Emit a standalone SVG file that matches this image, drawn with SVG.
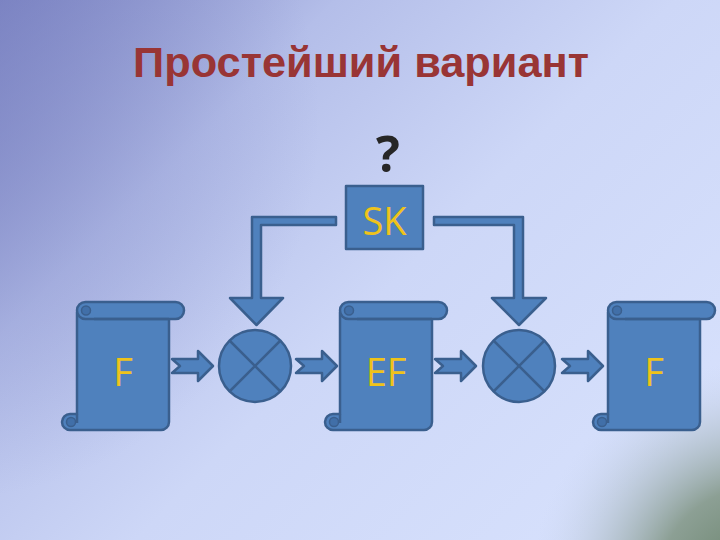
<svg xmlns="http://www.w3.org/2000/svg" xmlns:xlink="http://www.w3.org/1999/xlink" width="720" height="540" viewBox="0 0 720 540">
<defs>
  <linearGradient id="bg" x1="0" y1="0" x2="1" y2="0.75">
    <stop offset="0" stop-color="#7c84c3"/>
    <stop offset="0.3" stop-color="#b4bee9"/>
    <stop offset="0.6" stop-color="#cdd7f7"/>
    <stop offset="1" stop-color="#d6e0fc"/>
  </linearGradient>
  <radialGradient id="corner" cx="760" cy="590" r="230" gradientUnits="userSpaceOnUse">
    <stop offset="0" stop-color="#5f7a5f" stop-opacity="1"/>
    <stop offset="0.45" stop-color="#7f9482" stop-opacity="0.85"/>
    <stop offset="1" stop-color="#c8d3ee" stop-opacity="0"/>
  </radialGradient>
  <radialGradient id="leftshade" cx="-60" cy="120" r="380" gradientUnits="userSpaceOnUse">
    <stop offset="0" stop-color="#7b83c2" stop-opacity="0.6"/>
    <stop offset="1" stop-color="#7b83c2" stop-opacity="0"/>
  </radialGradient>
  <style>
    .shape { fill: #4f81bd; stroke: #3a5f8e; stroke-width: 2.5; stroke-linejoin: round; }
    .curl { fill: #416fa8; stroke: #3a5f8e; stroke-width: 1.5; }
    .line { stroke: #3a5f8e; stroke-width: 2.5; fill: none; }
    .lbl { font-family: "Open Sans", "DejaVu Sans", sans-serif; font-size: 38px; fill: #efc31a; text-anchor: middle; }
  </style>
  <g id="scroll">
    <path class="shape" d="M77,312 L77,414 L70,414 A8,8 0 0 0 70,430 L161,430 A8,8 0 0 0 169,422 L169,312 Z"/>
    <circle class="curl" cx="71" cy="422" r="4.5"/>
    <path class="line" d="M77,414 L77,423"/>
    <rect class="shape" x="77" y="302" width="107" height="17" rx="8.5"/>
    <circle class="curl" cx="86" cy="310.5" r="4.5"/>
    <path class="line" d="M94,319 L169,319"/>
  </g>
  <polygon id="notched" class="shape" points="0,-7 26,-7 26,-15 41,0 26,15 26,7 0,7 8,0"/>
  <g id="mult">
    <circle class="shape" cx="0" cy="0" r="36"/>
    <path class="line" d="M-25.5,-25.5 L25.5,25.5 M25.5,-25.5 L-25.5,25.5"/>
  </g>
</defs>

<rect width="720" height="540" fill="url(#bg)"/>
<rect width="720" height="540" fill="url(#leftshade)"/>
<rect width="720" height="540" fill="url(#corner)"/>

<text x="361" y="77" font-family="'Liberation Sans', Arial, sans-serif" font-weight="bold" font-size="42" fill="#993535" text-anchor="middle" textLength="456" lengthAdjust="spacingAndGlyphs">Простейший вариант</text>

<g id="connectors">
  <path class="shape" d="M336,217 L252,217 L252,298 L230,298 L256.5,325 L283,298 L261,298 L261,225 L336,225 Z"/>
  <path class="shape" d="M434,217 L523,217 L523,298 L546,298 L519,325 L492,298 L514,298 L514,225 L434,225 Z"/>
  <use xlink:href="#notched" transform="translate(172,366)"/>
  <use xlink:href="#notched" transform="translate(296,366)"/>
  <use xlink:href="#notched" transform="translate(435,366)"/>
  <use xlink:href="#notched" transform="translate(562,366)"/>
</g>

<g id="sk">
  <rect class="shape" x="346" y="186" width="77" height="63"/>
  <text class="lbl" x="384.5" y="235">SK</text>
  <text x="388" y="172" font-family="'Open Sans', 'DejaVu Sans', sans-serif" font-weight="bold" font-size="50" fill="#262626" text-anchor="middle">?</text>
</g>

<g id="scroll-f1">
  <use xlink:href="#scroll"/>
  <text class="lbl" x="123" y="386">F</text>
</g>
<g id="mult1"><use xlink:href="#mult" transform="translate(255,366)"/></g>
<g id="scroll-ef">
  <use xlink:href="#scroll" transform="translate(263,0)"/>
  <text class="lbl" x="386" y="386">EF</text>
</g>
<g id="mult2"><use xlink:href="#mult" transform="translate(519,366)"/></g>
<g id="scroll-f2">
  <use xlink:href="#scroll" transform="translate(531,0)"/>
  <text class="lbl" x="654" y="386">F</text>
</g>
</svg>
